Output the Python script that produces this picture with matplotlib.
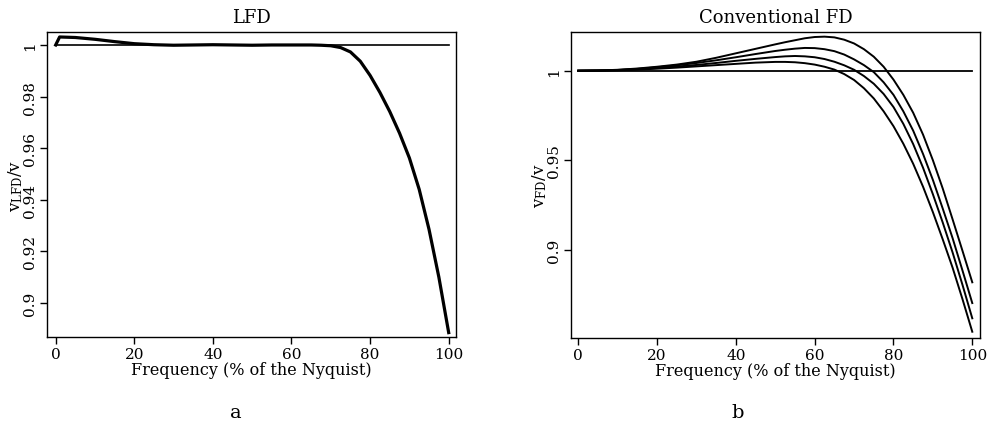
import matplotlib
matplotlib.use("Agg")
import matplotlib.pyplot as plt

# ---------------- data ----------------
ref_x = [0, 100]
ref_y = [1.0, 1.0]

lfd_freq = [0, 1, 5, 10, 15, 20, 25, 30, 35, 40, 45, 50, 55, 60, 62.5, 65,
            67.5, 70, 72.5, 75, 77.5, 80, 82.5, 85, 87.5, 90, 92.5, 95,
            97.5, 100]
lfd_ratio = [1.0, 1.0031, 1.0029, 1.0022, 1.0013, 1.0005, 1.0001, 0.9999,
             1.0, 1.0001, 1.0, 0.9999, 1.0, 1.0, 1.0, 1.0,
             0.9999, 0.9997, 0.9990, 0.9973, 0.9937, 0.9882, 0.9816, 0.9742,
             0.9658, 0.9562, 0.9440, 0.9285, 0.9100, 0.8885]

fd_freq = [0, 5, 10, 15, 20, 25, 30, 35, 40, 45, 50, 52.5, 55, 57.5, 60,
           62.5, 65, 67.5, 70, 72.5, 75, 77.5, 80, 82.5, 85, 87.5, 90, 92.5,
           95, 97.5, 100]
fd_ratio_1 = [1.0, 1.0001, 1.0005, 1.0012, 1.0022, 1.0034, 1.0050, 1.0072,
              1.0097, 1.0122, 1.0147, 1.0159, 1.0170, 1.0181, 1.0188,
              1.0190, 1.0186, 1.0173, 1.0152, 1.0120, 1.0078, 1.0022, 0.9950,
              0.9865, 0.9765, 0.9643, 0.9500, 0.9342, 0.9170, 0.8995, 0.8818]
fd_ratio_2 = [1.0, 1.0001, 1.0004, 1.0010, 1.0019, 1.0030, 1.0043, 1.0058,
              1.0075, 1.0093, 1.0110, 1.0117, 1.0123, 1.0127, 1.0126,
              1.0120, 1.0109, 1.0090, 1.0063, 1.0031, 0.9992, 0.9935, 0.9865,
              0.9773, 0.9665, 0.9535, 0.9390, 0.9230, 0.9065, 0.8885, 0.8702]
fd_ratio_3 = [1.0, 1.0001, 1.0003, 1.0008, 1.0015, 1.0023, 1.0032, 1.0043,
              1.0055, 1.0066, 1.0076, 1.0080, 1.0082, 1.0080, 1.0075,
              1.0065, 1.0050, 1.0030, 1.0005, 0.9970, 0.9927, 0.9870, 0.9797,
              0.9703, 0.9590, 0.9458, 0.9310, 0.9152, 0.8985, 0.8805, 0.8617]
fd_ratio_4 = [1.0, 1.0001, 1.0002, 1.0006, 1.0011, 1.0017, 1.0024, 1.0031,
              1.0038, 1.0045, 1.0049, 1.0049, 1.0047, 1.0042, 1.0034,
              1.0022, 1.0006, 0.9981, 0.9948, 0.9902, 0.9845, 0.9773, 0.9690,
              0.9592, 0.9480, 0.9352, 0.9210, 0.9058, 0.8900, 0.8725, 0.8542]

lfd_yticks = [0.9, 0.92, 0.94, 0.96, 0.98, 1.0]
lfd_yticklabels = ["0.9", "0.92", "0.94", "0.96", "0.98", "1"]
fd_yticks = [0.9, 0.95, 1.0]
fd_yticklabels = ["0.9", "0.95", "1"]
xticks = [0, 20, 40, 60, 80, 100]
xticklabels = ["0", "20", "40", "60", "80", "100"]

# ---------------- style ----------------
plt.rcParams["font.family"] = ["DejaVu Serif"]
plt.rcParams["mathtext.fontset"] = "dejavuserif"

fig = plt.figure(figsize=(9.88, 4.27), dpi=100)

ax1 = fig.add_axes([47 / 988, 1 - 338 / 427, 409 / 988, 305 / 427])
ax2 = fig.add_axes([571 / 988, 1 - 339 / 427, 409 / 988, 306 / 427])

ax1.plot(ref_x, ref_y, color="black", lw=1.2)
ax1.plot(lfd_freq, lfd_ratio, color="black", lw=2.3, solid_joinstyle="round")
ax1.set_xlim(-2.21, 101.86)
ax1.set_ylim(0.8868, 1.00503)
ax1.set_yticks(lfd_yticks)
ax1.set_yticklabels(lfd_yticklabels, rotation=90, va="center")
ax1.set_title("LFD", fontsize=13, pad=7)
ax1.set_ylabel(r"$\mathregular{v_{LFD}/v}$", fontsize=12, labelpad=-1)

ax2.plot(ref_x, ref_y, color="black", lw=1.3)
for r in (fd_ratio_1, fd_ratio_2, fd_ratio_3, fd_ratio_4):
    ax2.plot(fd_freq, r, color="black", lw=1.4, solid_joinstyle="round")
ax2.set_xlim(-1.85, 101.96)
ax2.set_ylim(0.8507, 1.0216)
ax2.set_yticks(fd_yticks)
ax2.set_yticklabels(fd_yticklabels, rotation=90, va="center")
ax2.set_title("Conventional FD", fontsize=13, pad=7)
ax2.set_ylabel(r"$\mathregular{v_{FD}/v}$", fontsize=12, labelpad=-1)

for ax in (ax1, ax2):
    ax.set_xticks(xticks)
    ax.set_xticklabels(xticklabels)
    ax.set_xlabel("Frequency (% of the Nyquist)", fontsize=11.5, labelpad=0)
    ax.tick_params(direction="out", length=5, width=1, labelsize=11,
                   top=False, right=False, pad=2)
    for s in ax.spines.values():
        s.set_linewidth(1.0)

fig.text(236 / 988, 1 - 413 / 427, "a", fontsize=14, ha="center", va="center")
fig.text(738 / 988, 1 - 413 / 427, "b", fontsize=14, ha="center", va="center")

fig.savefig("out.png", dpi=100)
